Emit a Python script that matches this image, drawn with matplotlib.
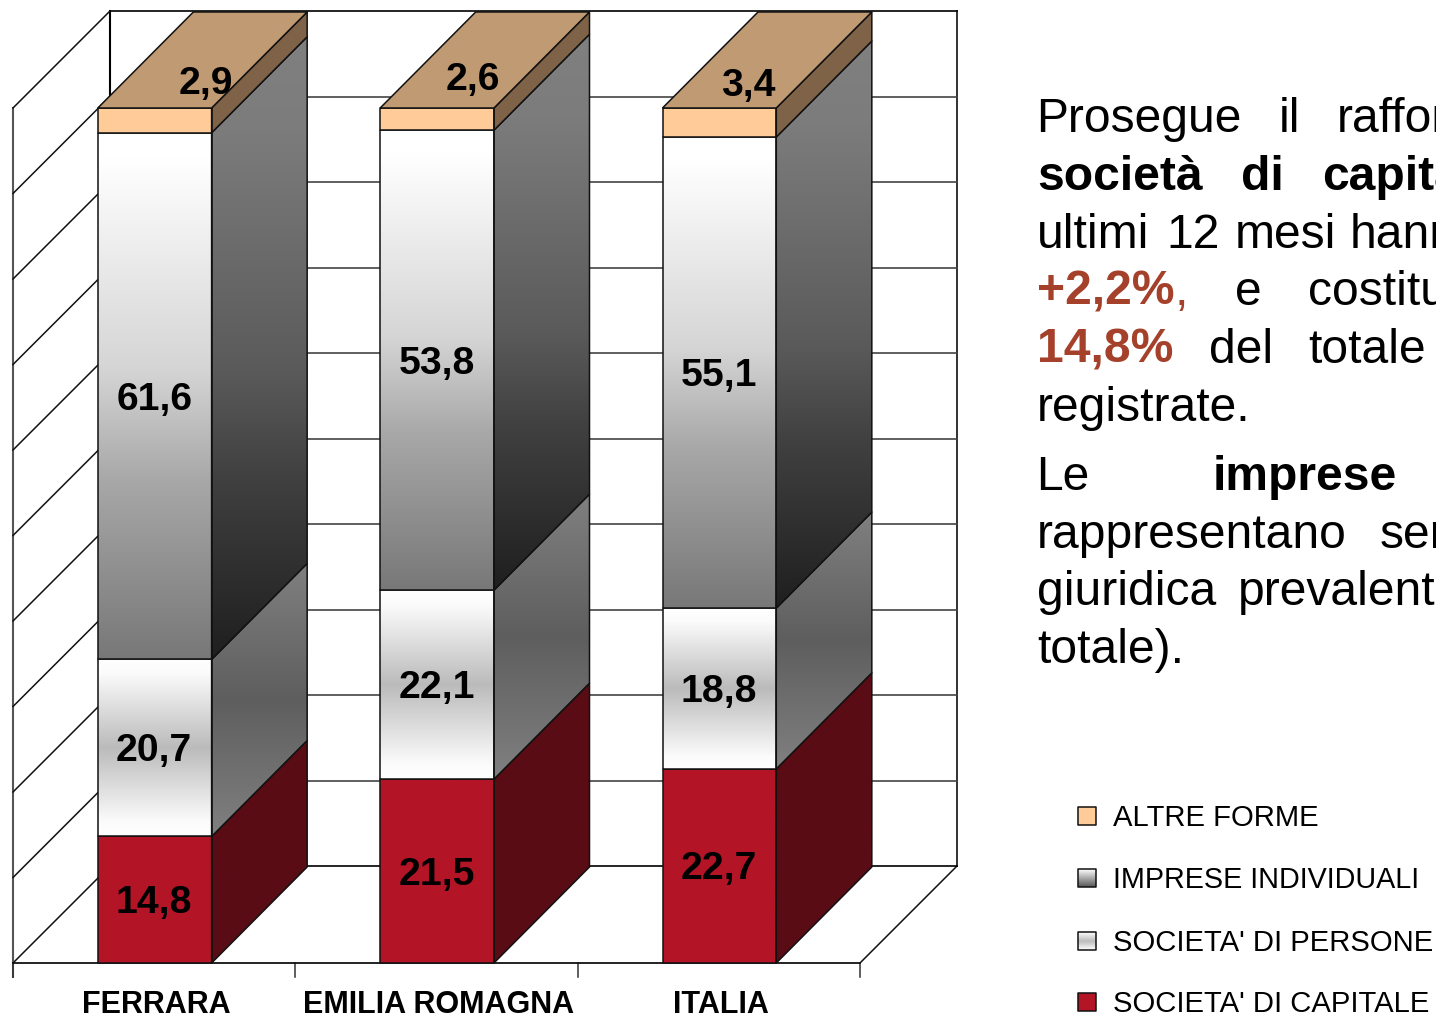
import numpy as np
import matplotlib
matplotlib.use("Agg")
import matplotlib.pyplot as plt
from matplotlib.colors import LinearSegmentedColormap
from matplotlib.patches import Polygon

plt.rcParams['font.family'] = ['Liberation Sans', 'DejaVu Sans']

# data
categories = ['FERRARA', 'EMILIA ROMAGNA', 'ITALIA']
capitale = [14.8, 21.5, 22.7]
persone = [20.7, 22.1, 18.8]
individuali = [61.6, 53.8, 55.1]
altre = [2.9, 2.6, 3.4]
legend_labels = ['ALTRE FORME', 'IMPRESE INDIVIDUALI', "SOCIETA' DI PERSONE", "SOCIETA' DI CAPITALE"]

W, H = 1436, 1015
X0, Y0 = 13, 963          # pixel position of the front corner of the plot
PX_CAT = 282.33           # pixels per category
PX_UNIT = 8.55            # pixels per percentage point
DX = 97 / PX_CAT          # oblique depth of the walls
DY = 97 / PX_UNIT
BAR_DX = DX * 0.985
BAR_DY = DY * 0.99
BAR_W = 0.403
EDGE = 1.1

fig = plt.figure(figsize=(W / 100, H / 100), dpi=100)
ax = fig.add_axes([0, 0, 1, 1])
ax.set_xlim(-X0 / PX_CAT, (W - X0) / PX_CAT)
ax.set_ylim(-(H - Y0) / PX_UNIT, Y0 / PX_UNIT)
ax.axis('off')

# overlay in pixels for the side text and the legend
ov = fig.add_axes([0, 0, 1, 1])
ov.set_xlim(0, W)
ov.set_ylim(H, 0)
ov.axis('off')
ov.patch.set_alpha(0)


def grad(a, pts, stops, z):
    """Fill a polygon with a vertical gradient, stops going top to bottom."""
    pts = np.array(pts)
    cmap = LinearSegmentedColormap.from_list('g', stops)
    box = [pts[:, 0].min(), pts[:, 0].max(), pts[:, 1].min(), pts[:, 1].max()]
    if a is ov:
        box = [box[0], box[1], box[3], box[2]]
    im = a.imshow(np.linspace(0, 1, 256).reshape(-1, 1), cmap=cmap, extent=box,
                  aspect='auto', origin='upper', interpolation='bilinear', zorder=z)
    poly = Polygon(pts, closed=True, fc='none', ec='#111111', lw=EDGE, zorder=z + 0.1,
                   joinstyle='round')
    a.add_patch(poly)
    im.set_clip_path(poly)


# walls and floor
top = 100
n_cat = len(categories)
ax.plot([0, n_cat], [0, 0], color='#111111', lw=1.3, zorder=2)
ax.plot([DX, DX], [DY, DY + top], color='#000000', lw=1.5, zorder=1)
ax.plot([n_cat + DX, n_cat + DX], [DY, DY + top], color='#222222', lw=1.3, zorder=1)
ax.plot([0, 0], [-14 / PX_UNIT, top], color='#555555', lw=1.5, zorder=1)
ax.plot([n_cat, n_cat + DX], [0, DY], color='#111111', lw=1.1, zorder=1)
for v in range(0, 101, 10):
    c = '#000000' if v in (0, 100) else '#444444'
    ax.plot([DX, n_cat + DX], [v + DY, v + DY], color=c, lw=1.2, zorder=1)
    ax.plot([0, DX], [v, v + DY], color='#111111', lw=1.1, zorder=1)
for i in range(n_cat + 1):
    ax.plot([i, i], [-14 / PX_UNIT, 0], color='#333333', lw=1.1, zorder=1)

# stacked bars, drawn bottom to top
series = [capitale, persone, individuali, altre]
front_stops = [
    ['#B31526', '#B31526'],
    [(0, '#FFFFFF'), (0.08, '#FBFBFB'), (0.5, '#BBBBBB'), (0.92, '#FBFBFB'), (1, '#FFFFFF')],
    [(0, '#FFFFFF'), (0.05, '#FFFFFF'), (0.45, '#D5D5D5'), (0.66, '#A8A8A8'), (1, '#787878')],
    ['#FFCC99', '#FFCC99'],
]
side_stops = [
    ['#5A0C15', '#5A0C15'],
    ['#808080', '#5E5E5E', '#808080'],
    [(0, '#808080'), (0.15, '#7C7C7C'), (0.54, '#5A5A5A'), (0.71, '#404040'), (1, '#1F1F1F')],
    ['#7F6348', '#7F6348'],
]
# the small top labels sit off their segments
top_label_dx = [52, 36, 29]
top_label_dy = [40, 43, 40]

for i in range(n_cat):
    x1 = i + 0.502 - BAR_W / 2
    x2 = x1 + BAR_W
    base = 0
    for s, vals in enumerate(series):
        v = vals[i]
        z = 3 + s
        grad(ax, [(x1, base), (x2, base), (x2, base + v), (x1, base + v)], front_stops[s], z)
        grad(ax, [(x2, base), (x2 + BAR_DX, base + BAR_DY), (x2 + BAR_DX, base + v + BAR_DY), (x2, base + v)],
             side_stops[s], z)
        lab = f'{v:.1f}'.replace('.', ',')
        lx = i + 0.5
        ly = base + v / 2 - 3.5 / PX_UNIT
        if s == 3:
            lx += top_label_dx[i] / PX_CAT
            ly += top_label_dy[i] / PX_UNIT
        ax.text(lx, ly, lab, ha='center', va='center', fontsize=28.2, fontweight='bold',
                color='black', zorder=20)
        base += v
    ax.add_patch(Polygon([(x1, base), (x2, base), (x2 + BAR_DX, base + BAR_DY), (x1 + BAR_DX, base + BAR_DY)],
                         closed=True, fc='#C09A72', ec='#111111', lw=EDGE, zorder=8))
    ax.text(i + 0.5 + 2 / PX_CAT, -(1013 - Y0) / PX_UNIT, categories[i], ha='center', va='baseline',
            fontsize=22, fontweight='bold', color='black')

# side text, justified word by word
RUST = '#A5402A'
side_words = [
    ('Prosegue', 1036.5, 132, 'normal', 'black'), ('il', 1279, 132, 'normal', 'black'),
    ('rafforzamento', 1337, 132, 'normal', 'black'),
    ('società', 1037, 190, 'bold', 'black'), ('di', 1241, 190, 'bold', 'black'),
    ('capitale', 1322, 190, 'bold', 'black'),
    ('ultimi', 1037, 248, 'normal', 'black'), ('12', 1166, 248, 'normal', 'black'),
    ('mesi', 1235, 248, 'normal', 'black'), ('hanno', 1350, 248, 'normal', 'black'),
    ('+2,2%', 1037, 305, 'bold', RUST), (',', 1175, 305, 'normal', RUST),
    ('e', 1235, 305, 'normal', 'black'), ('costituiscono', 1308, 305, 'normal', 'black'),
    ('14,8%', 1037, 363, 'bold', RUST), ('del', 1209, 363, 'normal', 'black'),
    ('totale', 1308, 363, 'normal', 'black'),
    ('registrate.', 1037, 421, 'normal', 'black'),
    ('Le', 1036, 490, 'normal', 'black'), ('imprese', 1213, 490, 'bold', 'black'),
    ('rappresentano', 1037, 548, 'normal', 'black'), ('sempre', 1380, 548, 'normal', 'black'),
    ('giuridica', 1037, 605, 'normal', 'black'), ('prevalente', 1238, 605, 'normal', 'black'),
    ('totale).', 1037, 663, 'normal', 'black'),
]
for word, x, y, weight, col in side_words:
    ov.text(x, y, word, fontsize=34.6, fontweight=weight, color=col, ha='left', va='baseline')

# legend
legend_y = [816, 878, 941, 1002]
legend_size = [21.1, 20.7, 21.1, 21.1]
legend_stops = [
    ['#FFCC99', '#FFCC99'],
    ['#FFFFFF', '#555555'],
    ['#FFFFFF', '#BBBBBB', '#FFFFFF'],
    ['#B31526', '#B31526'],
]
for lab, y, fs, st in zip(legend_labels, legend_y, legend_size, legend_stops):
    grad(ov, [(1078, y - 9), (1096, y - 9), (1096, y + 9), (1078, y + 9)], st, 3)
    ov.text(1113, y + 10, lab, fontsize=fs, color='black', ha='left', va='baseline')

ov.set_xlim(0, W)
ov.set_ylim(H, 0)
ax.set_xlim(-X0 / PX_CAT, (W - X0) / PX_CAT)
ax.set_ylim(-(H - Y0) / PX_UNIT, Y0 / PX_UNIT)

fig.savefig('out.png', dpi=100)
